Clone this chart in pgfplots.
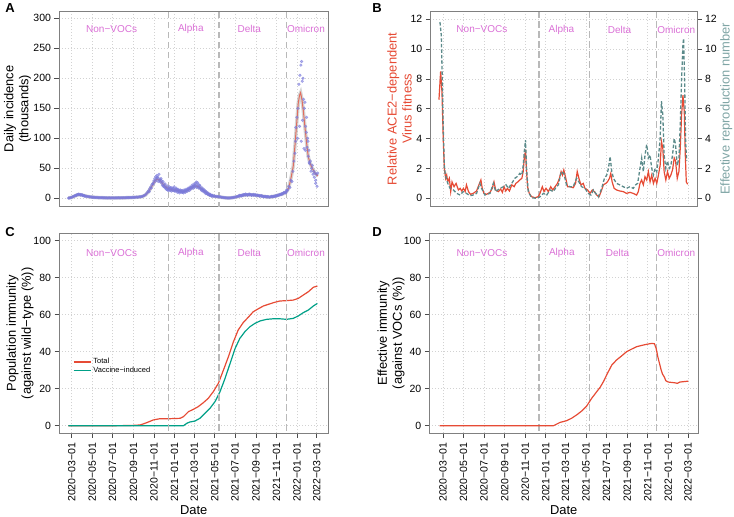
\documentclass[border=0pt]{standalone}
\usepackage{fontspec}
\setmainfont{Liberation Sans}
\usepackage{pgfplots}
\pgfplotsset{compat=1.18}
\definecolor{npgred}{HTML}{E64B35}
\definecolor{npggreen}{HTML}{00A087}
\definecolor{rtcol}{HTML}{5B8A8A}
\definecolor{rtlab}{HTML}{7FA5A5}
\definecolor{vlab}{HTML}{DA70D6}
\definecolor{ptcol}{HTML}{7B7BDC}
\definecolor{aline}{HTML}{E16E5F}
\pgfplotsset{
  panel/.style={
    scale only axis,
    axis line style={draw=black!50, line width=0.7pt},
    tick style={black!70, line width=0.6pt},
    tick align=outside,
    major tick length=4.5pt,
    grid=major,
    grid style={gray!35, dash pattern=on 0.8pt off 2.2pt, line width=0.6pt},
    ticklabel style={font=\fontsize{10.5}{12}\selectfont},
    label style={font=\fontsize{12.9}{15}\selectfont},
    /pgf/number format/assume math mode=true,
    xtick={0,61,122,184,245,306,365,426,487,549,610,671,730},
    ytick pos=left, xtick pos=bottom,
  },
  notx/.style={xticklabels={}, xtick style={draw=none}},
  datex/.style={
    xticklabels={2020−03−01,2020−05−01,2020−07−01,2020−09−01,2020−11−01,2021−01−01,2021−03−01,2021−05−01,2021−07−01,2021−09−01,2021−11−01,2022−01−01,2022−03−01},
    xticklabel style={rotate=90, anchor=east, xshift=-1.5pt},
    xlabel={Date},
    xlabel style={at={(axis description cs:0.5,-0.383)}, anchor=center},
  },
  vdash/.style={gray!55, line width=1.5pt, dash pattern=on 6.5pt off 3.5pt},
}
\tikzset{vl/.style={font=\fontsize{10}{12}\selectfont, text=vlab}}
\begin{document}
\begin{tikzpicture}[x=1pt,y=1pt]
\useasboundingbox (0,0) rectangle (734,517);
% ---------------- Panel A
\begin{axis}[panel, notx, at={(59pt,310.3pt)}, anchor=south west,
  width=269.3pt, height=195.7pt,
  xmin=-37.8, xmax=764.6, ymin=-14, ymax=312.2, ytick={0,50,...,300},
  ylabel={Daily incidence\\(thousands)},
  ylabel style={align=center, at={(axis description cs:-0.154,0.5)}, anchor=center}]
\addplot[only marks, mark=*, mark size=1.4pt, color=ptcol, mark options={draw=ptcol, fill=ptcol, opacity=0.6}] coordinates {
(-10,0.3)(-7,0.6)(-4,1.0)(-1,1.4)(2,2.2)(5,3.0)(8,3.8)(11,4.6)(14,5.5)(17,6.2)(20,6.0)(23,6.5)(26,5.4)(29,5.8)(32,4.9)(35,4.6)(38,4.2)(41,3.6)(44,3.5)(47,3.0)(50,2.7)(53,2.6)(56,2.2)(59,2.0)(62,1.9)(65,1.6)(68,1.5)(71,1.4)(74,1.2)(77,1.3)(80,1.1)(83,1.0)(86,0.9)(89,1.0)(92,0.8)(95,0.8)(98,0.9)(101,0.7)(104,0.8)(107,0.6)(110,0.7)(113,0.8)(116,0.6)(119,0.7)(122,0.8)(125,0.7)(128,0.6)(131,0.8)(134,0.7)(137,0.8)(140,0.9)(143,0.7)(146,0.8)(149,0.9)(152,0.8)(155,1.0)(158,0.9)(161,1.0)(164,1.1)(167,1.2)(170,1.1)(173,1.3)(176,1.4)(179,1.3)(182,1.6)(185,1.5)(188,1.8)(191,1.7)(194,2.0)(197,1.9)(200,2.2)(203,2.4)(206,2.6)(209,3.0)
(212,3.5)(215,4.5)(218,5.2)(221,6.5)(224,8.5)(227,10.5)(230,13)(233,16.5)(236,19)(239,22.5)(242,25)(245,29)(248,33)(251,36)(254,38)(257,35)(260,40)(263,31)(266,33)(269,26)(272,28)(275,22)(278,24)(281,18)(284,21)(287,16)(290,17)(293,13)(296,18)(299,15)
(302,13)(305,19)(308,14)(311,17)(314,12)(317,15)(320,11)(323,14)(326,10)(329,13)(332,11)(335,14)(338,12)(341,15)(344,14)(347,17)(350,16)(353,19)(356,18)(359,22)(362,20)(365,24)(368,21)(371,27)(374,20)(377,23)(380,18)(383,20)(386,15)(389,17)(392,13)(395,14)(398,10.5)(401,11)(404,8)(407,8.5)(410,6)(413,6.5)(416,4.5)(419,5)(422,3.5)(425,4)(428,3)(431,3.2)(434,2.6)(437,2.8)(440,2.2)(443,2.3)(446,1.8)(449,1.6)
(452,1.3)(455,1.0)(458,0.9)(461,0.7)(464,0.6)(467,0.5)(470,0.6)(473,0.7)(476,0.9)(479,1.1)(482,1.4)(485,1.8)(488,2.1)(491,2.6)(494,3.0)(497,3.6)(500,3.8)(503,4.5)(506,4.8)(509,5.3)(512,5.0)(515,6.0)(518,5.4)(521,6.4)(524,5.6)(527,6.6)(530,5.8)(533,6.4)(536,5.5)(539,6.0)(542,5.2)(545,5.6)(548,4.8)(551,5.2)(554,4.4)(557,4.8)(560,4.0)(563,4.2)(566,3.5)(569,3.6)(572,3.0)(575,3.1)(578,2.5)(581,2.6)(584,2.1)(587,2.3)(590,2.0)(593,2.4)(596,2.6)(599,3.0)(602,3.2)(605,3.8)(608,4.1)(611,4.5)(614,5.2)(617,5.5)(620,6.4)(623,6.8)(626,7.5)(629,8.0)(632,8.5)(635,9.5)(638,10.5)(641,12)
(644,14)(647,20)(650,18)(653,30)(656,28)(659,45)(662,62)(665,75)(668,118)(671,135)(674,150)(677,190)(680,205)(683,222)(685,228)(687,195)(689,200)(691,165)(693,150)(695,160)(697,120)(699,110)(701,85)(703,100)(705,70)(707,80)(709,58)(711,62)(713,45)(715,50)(717,55)(719,40)(721,45)(723,35)(725,42)(727,30)(729,40)(731,20)(733,42)
(679,120)(684,95)(688,130)(692,83)(696,80)(700,135)(704,95)(708,60)(727,25)(673,100)(667,95)
(14,4.5)(20,7)(26,6.2)(32,5.6)(38,3.8)
(231,11)(237,17)(243,24)(249,28)(252,31)(255,34)(258,28)(261,30)(264,27)(267,30)(270,22)(273,20)(276,19)(279,17)(282,15)(285,14)(288,13)(291,19)(294,16)(297,12)(300,17)(303,16)(306,12)(309,12)(312,15)(315,10)(318,13)(321,9)(324,12)(327,12)(330,10)(333,9)(336,12)(339,10)(342,13)(345,12)(348,15)(351,13)(354,17)(357,16)(360,19)(363,17)(366,20)(369,24)(372,18)(375,26)(378,17)(381,22)(384,16)(387,13)(390,15)(393,11)(396,12)(399,8)(402,9)(405,6.5)(408,7)(411,5)(414,5.5)(417,3.5)(420,4.2)
(500,4.8)(506,4)(512,6.4)(518,7)(524,5)(530,7)(536,4.8)(542,6.5)(548,5.8)(554,5.3)(560,3.6)(566,4.4)(572,2.6)(578,3.2)(584,2.8)(596,3.2)(602,2.6)(608,3.4)(614,4.5)(620,5.6)(626,6.5)(632,9.5)(638,9)(641,14)
};
\addplot[gray!60, opacity=0.55, line width=3.5pt] coordinates {
(-10,0.5)(0,1.5)(10,4)(20,6)(30,5.5)(40,4)(50,2.8)(60,2)(80,1.2)(100,0.8)(130,0.7)(160,0.9)(180,1.3)(200,2)(210,2.8)(220,5.5)(230,12)(240,21)(248,29)(255,32)(262,31)(270,25)(280,19)(290,15.5)(300,14)(310,14)(320,12.5)(333,11)(345,13)(355,16.5)(365,20)(372,20.5)(380,18.5)(390,14)(400,10)(412,5)(425,3.2)(440,2.2)(455,1.0)(465,0.6)(475,0.8)(490,2)(505,4.5)(520,5.5)(535,5.8)(550,5)(565,3.8)(580,2.5)(591,2)(605,3.5)(620,6)(630,7.5)(640,11)(646,17)(650,25)(655,38)(660,53)(665,86)(670,122)(675,158)(679,172)(682,176)(686,165)(690,147)(695,119)(700,92)(705,69)(710,59)(715,52)(720,47)(725,42)(730,39)(733,37)};
\addplot[aline, line width=1pt] coordinates {
(-10,0.5)(0,1.5)(10,4)(20,6)(30,5.5)(40,4)(50,2.8)(60,2)(80,1.2)(100,0.8)(130,0.7)(160,0.9)(180,1.3)(200,2)(210,2.8)(220,5.5)(230,12)(240,21)(248,29)(255,32)(262,31)(270,25)(280,19)(290,15.5)(300,14)(310,14)(320,12.5)(333,11)(345,13)(355,16.5)(365,20)(372,20.5)(380,18.5)(390,14)(400,10)(412,5)(425,3.2)(440,2.2)(455,1.0)(465,0.6)(475,0.8)(490,2)(505,4.5)(520,5.5)(535,5.8)(550,5)(565,3.8)(580,2.5)(591,2)(605,3.5)(620,6)(630,7.5)(640,11)(646,17)(650,25)(655,38)(660,53)(665,86)(670,122)(675,158)(679,172)(682,176)(686,165)(690,147)(695,119)(700,92)(705,69)(710,59)(715,52)(720,47)(725,42)(730,39)(733,37)};
\addplot[vdash] coordinates {(289,-100)(289,400)};
\addplot[vdash] coordinates {(439,-100)(439,400)};
\addplot[vdash] coordinates {(640,-100)(640,400)};
\node[vl] at (axis cs:119,281.7) {Non−VOCs};
\node[vl] at (axis cs:355,281.7) {Alpha};
\node[vl] at (axis cs:529,281.7) {Delta};
\node[vl] at (axis cs:698,281.7) {Omicron};
\end{axis}
% ---------------- Panel B
\begin{axis}[panel, notx, at={(430.3pt,310.3pt)}, anchor=south west,
  width=266.7pt, height=195.7pt,
  xmin=-37.8, xmax=756.9, ymin=-0.56, ymax=12.54, ytick={0,2,...,12},
  ylabel={Relative ACE2−dependent\\Virus fitness},
  ylabel style={align=center, text=npgred, at={(axis description cs:-0.115,0.5)}, anchor=center}]
\addplot[vdash] coordinates {(286,-10)(286,20)};
\addplot[vdash] coordinates {(436,-10)(436,20)};
\addplot[vdash] coordinates {(636,-10)(636,20)};
\addplot[npgred, line width=1.2pt] coordinates {
(-12,6.6)(-7,8.5)(-3,7.1)(1,3.8)(4,2.0)(8,1.34)(11,1.56)(14,1.1)(19,1.34)(23,0.45)(27,1.1)(33,0.78)(39,1.0)(46,0.56)(51,0.67)(56,0.49)(61,0.67)(66,0.45)(70,0.9)(76,0.45)(82,0.27)(90,0.33)(100,0.49)(107,0.9)(113,1.23)(117,0.67)(122,0.33)(130,0.27)(140,0.4)(147,0.67)(152,1.1)(157,0.56)(165,0.45)(172,0.62)(177,0.4)(182,0.78)(187,0.49)(192,0.67)(198,0.49)(205,0.9)(212,0.78)(217,1.0)(223,1.1)(229,1.23)(235,1.34)(239,1.79)(243,2.9)(246,3.1)(249,1.8)(252,0.78)(257,0.33)(264,0.11)(274,0.04)(284,0.11)(289,0.33)(296,0.78)(301,0.45)(307,0.67)(314,0.45)(321,0.78)(327,0.56)(334,0.78)(341,1.0)(347,1.34)(352,1.79)(356,1.56)(360,1.9)(366,1.34)(371,0.78)(378,0.78)(388,0.71)(395,1.0)(400,1.79)(405,1.34)(411,0.9)(418,1.0)(423,0.67)(431,0.56)(438,0.33)(445,0.56)(451,0.45)(458,0.22)(465,0.11)(471,0.45)(478,0.9)(485,1.0)(490,1.1)(496,1.34)(500,1.67)(504,1.1)(510,0.67)(517,0.56)(527,0.49)(537,0.45)(547,0.33)(557,0.4)(567,0.33)(577,0.22)(582,0.45)(587,1.0)(592,1.23)(597,0.9)(602,1.45)(607,1.23)(612,1.79)(617,1.1)(622,1.56)(627,1.0)(632,1.34)(637,1.0)(642,1.56)(647,2.2)(651,3.8)(655,3.35)(659,1.79)(664,1.23)(669,1.79)(674,1.34)(679,1.56)(684,1.9)(689,2.7)(693,2.5)(698,1.34)(703,1.79)(707,3.35)(711,5.6)(715,6.9)(719,5.8)(722,2.9)(725,1.1)(729,0.94)};
\node[vl] at (axis cs:116,11.3) {Non−VOCs};
\node[vl] at (axis cs:353,11.3) {Alpha};
\node[vl] at (axis cs:526,11.3) {Delta};
\node[vl] at (axis cs:695,11.3) {Omicron};
\end{axis}
\begin{axis}[panel, grid=none, at={(430.3pt,310.3pt)}, anchor=south west,
  width=266.7pt, height=195.7pt, xtick=\empty,
  xmin=-37.8, xmax=756.9, ymin=-0.56, ymax=12.54, ytick={0,2,...,12},
  ytick pos=right, yticklabel pos=right,
  ylabel={Effective reproduction number},
  ylabel style={text=rtlab, at={(axis description cs:1.11,0.5)}, anchor=center}]
\addplot[rtcol, line width=1.3pt, dash pattern=on 3.5pt off 2pt] coordinates {
(-9,11.8)(-5,10.9)(-2,7.8)(1,4.5)(4,2.2)(7,1.56)(11,1.23)(16,0.9)(21,0.67)(31,0.56)(41,0.33)(51,0.22)(60,0.45)(70,0.33)(80,0.18)(90,0.22)(100,0.33)(110,1.0)(115,0.67)(125,0.22)(140,0.33)(150,1.0)(157,0.45)(170,0.67)(180,0.78)(188,0.9)(195,0.67)(205,1.0)(214,1.34)(221,1.45)(229,1.67)(235,1.56)(239,2.2)(243,3.3)(246,3.9)(249,2.0)(254,0.45)(264,0.04)(279,0)(289,0.1)(299,0.33)(309,0.22)(319,0.56)(329,0.45)(338,0.78)(344,0.9)(352,1.79)(360,1.67)(368,0.9)(378,0.78)(388,0.78)(398,1.34)(405,1.1)(413,0.78)(423,0.67)(433,0.33)(441,0.22)(448,0.56)(455,0.33)(463,0.11)(473,0.67)(481,1.34)(488,1.56)(493,2.0)(498,2.8)(503,1.79)(508,1.34)(517,1.0)(527,0.9)(537,0.78)(547,0.67)(557,0.78)(567,0.67)(574,0.9)(580,1.0)(587,2.0)(592,2.7)(597,1.79)(602,2.9)(607,3.6)(612,2.7)(617,2.9)(622,2.0)(627,1.56)(632,2.0)(637,1.79)(642,2.7)(647,4.0)(651,6.5)(655,5.6)(659,2.9)(664,2.0)(669,2.5)(674,2.0)(679,2.2)(684,2.9)(689,4.0)(693,3.6)(698,2.2)(703,2.7)(707,4.9)(711,8.0)(715,10.3)(717,10.7)(720,7.8)(723,3.8)(726,2.5)};
\end{axis}
% ---------------- Panel C
\begin{axis}[panel, datex, at={(59pt,83.7pt)}, anchor=south west,
  width=269.3pt, height=200pt,
  xmin=-37.8, xmax=764.6, ymin=-4.1, ymax=104, ytick={0,20,...,100},
  ylabel={Population immunity\\(against wild−type (\%))},
  ylabel style={align=center, at={(axis description cs:-0.145,0.5)}, anchor=center},
  legend style={at={(axis description cs:0.04,0.395)}, anchor=north west, draw=none, fill=none,
    font=\fontsize{7.5}{8.5}\selectfont, row sep=-2.5pt},
  legend cell align=left]
\addlegendimage{line legend, color=npgred, line width=1.4pt}
\addlegendentry{Total}
\addlegendimage{line legend, color=npggreen, line width=1.4pt}
\addlegendentry{Vaccine−induced}
\addplot[npgred, line width=1.2pt, forget plot] coordinates {
(-10,0)(100,0)(150,0.05)(185,0.2)(204,0.4)(223,1.6)(243,3.1)(263,3.8)(293,3.8)(323,4.0)(333,4.9)(348,7.6)(362,8.8)(377,10.3)(392,12.4)(407,14.8)(422,18.4)(437,22.9)(452,30)(467,37.3)(482,45.4)(496,51.7)(511,55.7)(526,58.6)(541,61.6)(556,63.2)(571,64.7)(586,65.6)(601,66.5)(620,67.4)(640,67.6)(660,67.9)(675,68.8)(690,70.6)(705,72.4)(720,74.8)(732,75.5)};
\addplot[npggreen, line width=1.2pt, forget plot] coordinates {
(-10,0)(204,0)(333,0)(343,1.3)(352,2.0)(367,2.5)(382,4.0)(397,6.7)(412,9.4)(427,13)(442,18.4)(457,25.6)(472,33.7)(487,41.8)(501,47.2)(516,50.8)(531,53.5)(546,55.3)(561,56.6)(581,57.5)(601,57.8)(620,57.8)(640,57.5)(660,58)(675,59.3)(690,61.1)(705,62.5)(720,64.7)(732,66.1)};
\addplot[vdash, forget plot] coordinates {(289,-100)(289,400)};
\addplot[vdash, forget plot] coordinates {(439,-100)(439,400)};
\addplot[vdash, forget plot] coordinates {(640,-100)(640,400)};
\node[vl] at (axis cs:119,93.2) {Non−VOCs};
\node[vl] at (axis cs:355,93.2) {Alpha};
\node[vl] at (axis cs:529,93.2) {Delta};
\node[vl] at (axis cs:698,93.2) {Omicron};
\end{axis}
% ---------------- Panel D
\begin{axis}[panel, datex, at={(429.3pt,83.7pt)}, anchor=south west,
  width=268.7pt, height=200pt,
  xmin=-40.8, xmax=759.8, ymin=-4.1, ymax=104, ytick={0,20,...,100},
  ylabel={Effective immunity\\(against VOCs (\%))},
  ylabel style={align=center, at={(axis description cs:-0.142,0.5)}, anchor=center}]
\addplot[vdash] coordinates {(286,-100)(286,400)};
\addplot[vdash] coordinates {(436,-100)(436,400)};
\addplot[vdash] coordinates {(636,-100)(636,400)};
\addplot[npgred, line width=1.2pt] coordinates {
(-10,0)(229,0)(329,0)(339,0.9)(349,1.8)(368,2.7)(383,4.0)(398,5.8)(413,7.9)(428,10.6)(443,14.8)(458,18.4)(468,20.7)(478,23.8)(490,28.3)(503,32.8)(517,35.5)(532,37.7)(547,40)(562,41.4)(577,42.7)(592,43.4)(607,44)(622,44.5)(630,44.3)(635,41.8)(640,37.3)(645,33.7)(650,30.1)(654,27.9)(659,26.5)(664,24.3)(671,23.6)(681,23.4)(691,23.2)(698,22.9)(706,23.6)(716,23.8)(731,24.1)};
\node[vl] at (axis cs:116,93.2) {Non−VOCs};
\node[vl] at (axis cs:354,93.2) {Alpha};
\node[vl] at (axis cs:520,93.2) {Delta};
\node[vl] at (axis cs:695,93.2) {Omicron};
\end{axis}
\node[font=\bfseries\fontsize{13}{13}\selectfont] at (10,509) {A};
\node[font=\bfseries\fontsize{13}{13}\selectfont] at (377,509) {B};
\node[font=\bfseries\fontsize{13}{13}\selectfont] at (10,285.3) {C};
\node[font=\bfseries\fontsize{13}{13}\selectfont] at (377,285.3) {D};
\end{tikzpicture}
\end{document}
